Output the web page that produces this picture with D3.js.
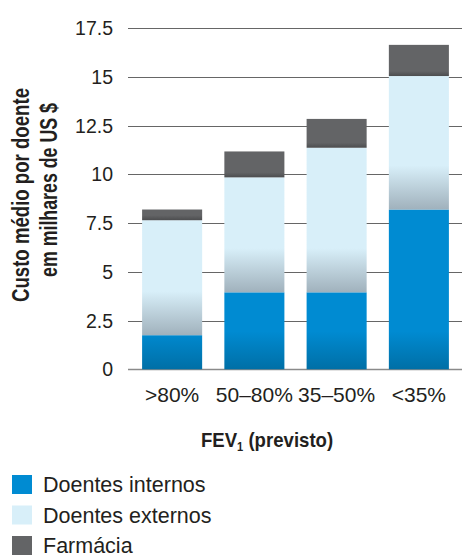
<!DOCTYPE html>
<html>
<head>
<meta charset="utf-8">
<script src="https://cdn.jsdelivr.net/npm/d3@7"></script>
<style>
  body { margin: 0; background: #fff; }
  svg text { font-family: "Liberation Sans", Arial, sans-serif; fill: #231f20; }
</style>
</head>
<body>
<svg id="chart"></svg>
<script>
// chart data
const categories = [">80%", "50–80%", "35–50%", "<35%"];
const internos = [1.75, 3.95, 3.95, 8.2];
const externos = [5.9, 5.9, 7.42, 6.85];
const farmacia = [0.55, 1.33, 1.48, 1.6];
const yTicks = [0, 2.5, 5, 7.5, 10, 12.5, 15, 17.5];
const seriesNames = ["Doentes internos", "Doentes externos", "Farmácia"];

const rows = categories.map((c, i) => ({
  cat: c, internos: internos[i], externos: externos[i], farmacia: farmacia[i]
}));
const keys = ["internos", "externos", "farmacia"];

const W = 462, H = 557;
const svg = d3.select("#chart").attr("width", W).attr("height", H);
const defs = svg.append("defs");

const x = d3.scaleBand()
  .domain(categories)
  .range([131, 460])
  .paddingInner(0.27)
  .paddingOuter(0.135);
const y = d3.scaleLinear().domain([0, 17.5]).range([369.3, 28.3]);

// gridlines
svg.append("g").selectAll("line")
  .data(yTicks)
  .enter().append("line")
  .attr("x1", 128).attr("x2", W)
  .attr("y1", d => Math.round(y(d)) + 0.5)
  .attr("y2", d => Math.round(y(d)) + 0.5)
  .attr("stroke", d => d === 0 ? "#8a8a8a" : "#666")
  .attr("stroke-width", d => d === 0 ? 1.6 : 1);

// tick labels
svg.append("g").selectAll("text")
  .data(yTicks)
  .enter().append("text")
  .attr("x", 113)
  .attr("y", d => y(d) + 7)
  .attr("text-anchor", "end")
  .style("font-size", "19.5px")
  .text(d => d3.format("")(d));

// colours: top, bottom and fade length in px
const grad = {
  internos: { top: "#008bd2", bot: "#006fa6", len: 38 },
  externos: { top: "#d8eff9", bot: "#a0b1bc", len: 44 },
  farmacia: { top: "#636466", bot: "#4c4d4f", len: 5 }
};

const stack = d3.stack().keys(keys)(rows);

stack.forEach(layer => {
  const k = layer.key;
  const g = svg.append("g");
  layer.forEach((d, i) => {
    const y0 = y(d[0]), y1 = y(d[1]);
    const id = "g-" + k + "-" + i;
    const lg = defs.append("linearGradient")
      .attr("id", id)
      .attr("gradientUnits", "userSpaceOnUse")
      .attr("x1", 0).attr("x2", 0)
      .attr("y1", y0 - grad[k].len).attr("y2", y0);
    lg.append("stop").attr("offset", 0).attr("stop-color", grad[k].top);
    lg.append("stop").attr("offset", 1).attr("stop-color", grad[k].bot);
    g.append("rect")
      .attr("x", x(d.data.cat))
      .attr("width", x.bandwidth())
      .attr("y", y1)
      .attr("height", y0 - y1)
      .attr("fill", "url(#" + id + ")");
  });
});

// category labels
svg.append("g").selectAll("text")
  .data(categories)
  .enter().append("text")
  .attr("x", d => x(d) + x.bandwidth() / 2)
  .attr("y", 402)
  .attr("text-anchor", "middle")
  .style("font-size", "21px")
  .text(d => d);

// x title (squeezed a bit, the original font is condensed)
const xt = svg.append("text")
  .attr("transform", "translate(267,447) scale(0.93,1)")
  .attr("text-anchor", "middle")
  .style("font-size", "20px")
  .style("font-weight", "bold");
xt.append("tspan").text("FEV");
xt.append("tspan").attr("dy", 4).style("font-size", "12px").text("1");
xt.append("tspan").attr("dy", -4).text(" (previsto)");

// y title, two lines squeezed to look condensed
svg.append("text")
  .attr("transform", "translate(29,195) rotate(-90)")
  .attr("text-anchor", "middle")
  .attr("textLength", 214)
  .attr("lengthAdjust", "spacingAndGlyphs")
  .style("font-size", "23px")
  .style("font-weight", "bold")
  .text("Custo médio por doente");
svg.append("text")
  .attr("transform", "translate(57,190) rotate(-90)")
  .attr("text-anchor", "middle")
  .attr("textLength", 174)
  .attr("lengthAdjust", "spacingAndGlyphs")
  .style("font-size", "23px")
  .style("font-weight", "bold")
  .text("em milhares de US $");

// legend
const legColors = ["#008bd2", "#d8eff9", "#636466"];
const leg = svg.append("g").selectAll("g")
  .data(seriesNames)
  .enter().append("g")
  .attr("transform", (d, i) => "translate(12," + (475 + i * 30.5) + ")");
leg.append("rect")
  .attr("width", 20).attr("height", 19)
  .attr("fill", (d, i) => legColors[i]);
leg.append("text")
  .attr("x", 31).attr("y", 17)
  .style("font-size", "21.5px")
  .text(d => d);
</script>
</body>
</html>
